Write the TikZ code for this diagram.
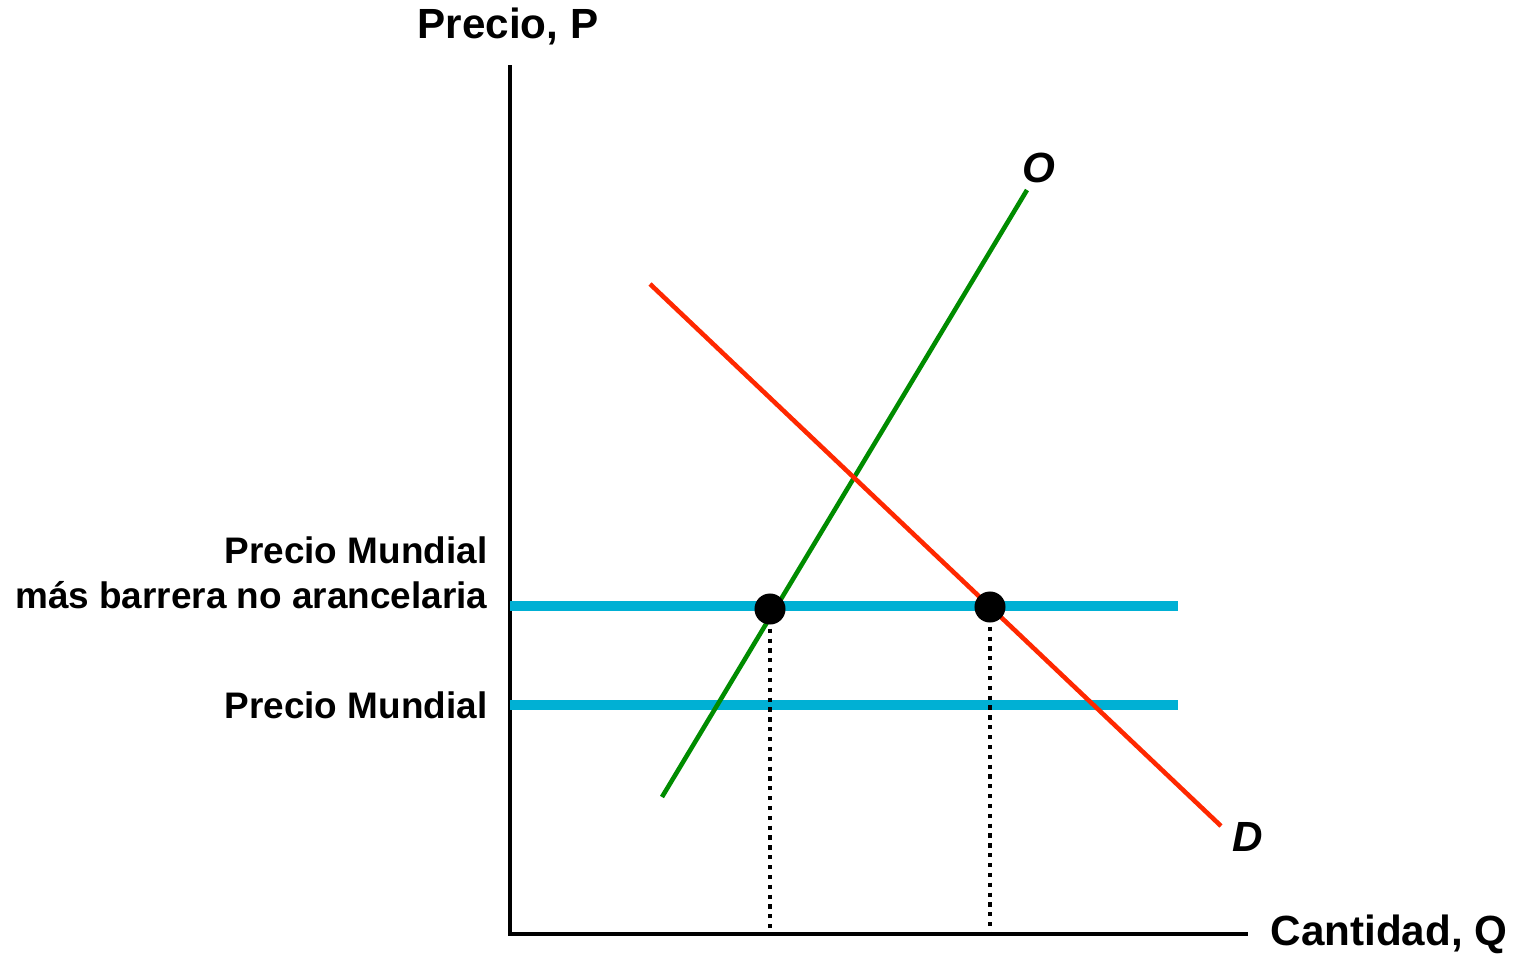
\documentclass[tikz,border=0pt]{standalone}
\usepackage{fontspec}
\setmainfont{Liberation Sans}
\usetikzlibrary{positioning}
\definecolor{myblue}{RGB}{0,176,212}
\definecolor{mygreen}{RGB}{0,140,0}
\definecolor{myred}{RGB}{255,40,0}
\begin{document}
\begin{tikzpicture}[x=0.01cm, y=-0.01cm,
    axislabel/.style = {font=\fontsize{12}{14}\selectfont\bfseries, inner sep=0pt},
    pricelabel/.style = {font=\fontsize{10.5}{12.8}\selectfont\bfseries, align=right,
      anchor=east, inner sep=0pt},
    curvelabel/.style = {font=\fontsize{12}{14}\selectfont\bfseries\itshape, inner sep=0pt},
    pricetag/.style = {myblue, line width=2.7pt},
    guide/.style = {line width=1pt, dash pattern=on 1.2pt off 1.6pt},
    dot/.style = {circle, fill=black, minimum size=0.31cm, inner sep=0pt}]
  \useasboundingbox (0,0) rectangle (1517,954);
  % axes
  \coordinate (origin) at (510,934);
  \coordinate (ytop) at (510,65);
  \coordinate (xend) at (1248,934);
  \draw[line width=1.2pt] (ytop) -- (origin) -- (xend);
  \node[axislabel] (ptitle) at (508,26) {Precio, P};
  \node[axislabel, anchor=west] (qtitle) at (1270,934) {Cantidad, Q};
  % world prices
  \coordinate (pwt) at (510,606);
  \coordinate (pwtend) at (1178,606);
  \coordinate (pw) at (510,705);
  \coordinate (pwend) at (1178,705);
  \draw[pricetag] (pwt) -- (pwtend);
  \draw[pricetag] (pw) -- (pwend);
  \node[pricelabel] (pwtlabel) at (488,573) {Precio Mundial\\más barrera no arancelaria};
  \node[pricelabel] (pwlabel) at (488,705) {Precio Mundial};
  % supply and demand
  \coordinate (s0) at (662,797);
  \coordinate (s1) at (1027,190);
  \coordinate (d0) at (650,284);
  \coordinate (d1) at (1221,826);
  \draw[mygreen, line width=1.3pt] (s0) -- (s1);
  \draw[myred, line width=1.3pt] (d0) -- (d1);
  \node[curvelabel] (olabel) at (1039,168) {O};
  \node[curvelabel] (dlabel) at (1248,837) {D};
  % quantities
  \node[dot] (qs) at (770,609) {};
  \node[dot] (qd) at (990,607) {};
  \coordinate (qsaxis) at (770,932);
  \coordinate (qdaxis) at (990,932);
  \draw[guide] (qs.center) -- (qsaxis);
  \draw[guide] (qd.center) -- (qdaxis);
\end{tikzpicture}
\end{document}
